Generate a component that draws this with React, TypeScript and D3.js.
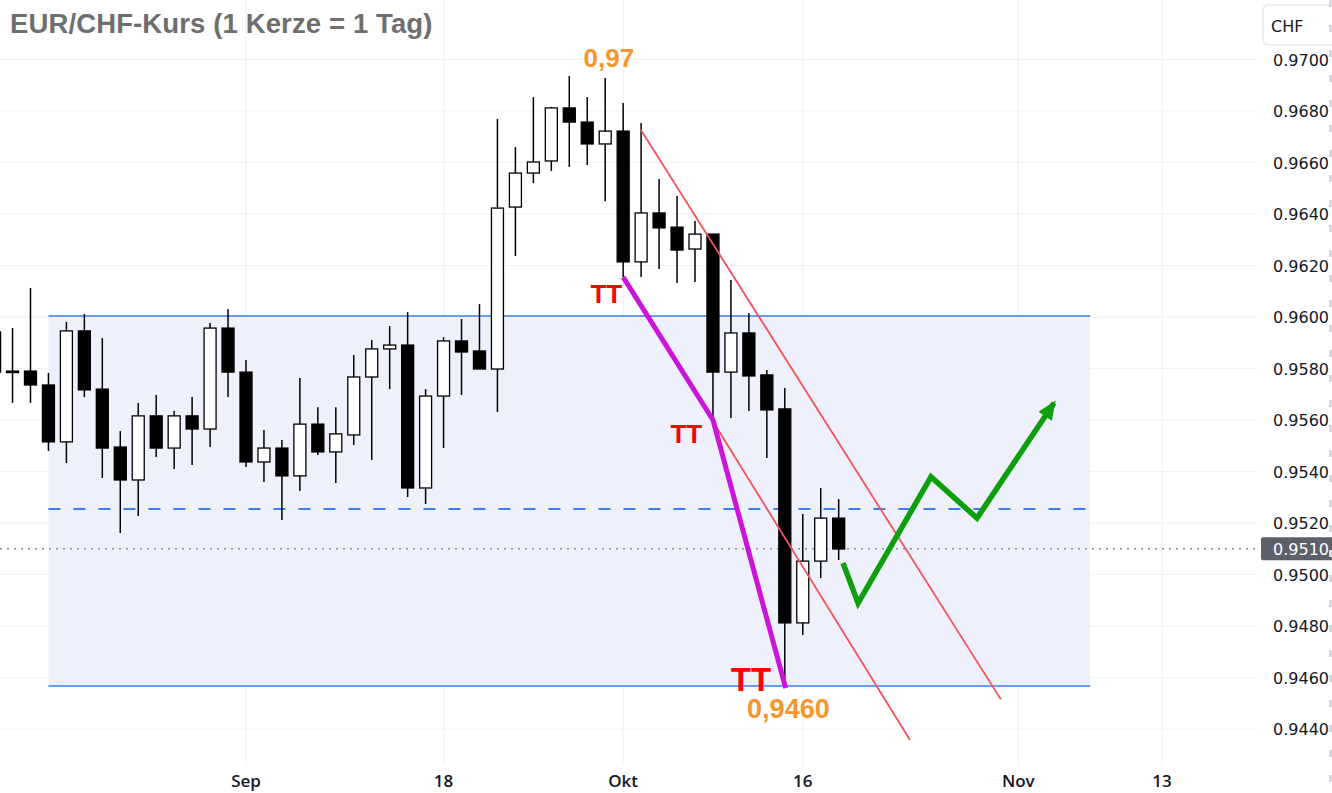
import React from 'react';
import * as d3 from 'd3';

// ---- DATA ----
const dates = [
  '2023-08-14', '2023-08-15', '2023-08-16', '2023-08-17', '2023-08-18',
  '2023-08-21', '2023-08-22', '2023-08-23', '2023-08-24', '2023-08-25',
  '2023-08-28', '2023-08-29', '2023-08-30', '2023-08-31', '2023-09-01',
  '2023-09-04', '2023-09-05', '2023-09-06', '2023-09-07', '2023-09-08',
  '2023-09-11', '2023-09-12', '2023-09-13', '2023-09-14', '2023-09-15',
  '2023-09-18', '2023-09-19', '2023-09-20', '2023-09-21', '2023-09-22',
  '2023-09-25', '2023-09-26', '2023-09-27', '2023-09-28', '2023-09-29',
  '2023-10-02', '2023-10-03', '2023-10-04', '2023-10-05', '2023-10-06',
  '2023-10-09', '2023-10-10', '2023-10-11', '2023-10-12', '2023-10-13',
  '2023-10-16', '2023-10-17', '2023-10-18',
];
const openVals = [
  0.95942, 0.9579, 0.9579, 0.95736, 0.95515,
  0.95946, 0.9572, 0.95495, 0.95367, 0.95616,
  0.95491, 0.95616, 0.95565, 0.95957, 0.95786,
  0.95437, 0.95491, 0.95383, 0.95584, 0.95476,
  0.95542, 0.95767, 0.95876, 0.95891, 0.95336,
  0.95693, 0.95907, 0.95868, 0.95798, 0.96427,
  0.96559, 0.96606, 0.96812, 0.96757, 0.96672,
  0.96722, 0.96214, 0.96404, 0.96349, 0.96264,
  0.96322, 0.95786, 0.95938, 0.95775, 0.95643,
  0.94812, 0.95052, 0.95219,
];
const highVals = [
  0.9596, 0.95957, 0.96113, 0.95783, 0.95981,
  0.96012, 0.95918, 0.95557, 0.95666, 0.95697,
  0.95635, 0.95689, 0.95977, 0.96031, 0.95833,
  0.95561, 0.95522, 0.95763, 0.9565, 0.9565,
  0.95852, 0.95911, 0.95965, 0.96019, 0.9572,
  0.95922, 0.95992, 0.9605, 0.96769, 0.9666,
  0.96854, 0.96816, 0.96936, 0.96854, 0.96928,
  0.96831, 0.96753, 0.96536, 0.9647, 0.96373,
  0.96322, 0.96144, 0.96016, 0.95794, 0.95724,
  0.95235, 0.95336, 0.95293,
];
const lowVals = [
  0.9577, 0.95666, 0.95666, 0.9548, 0.95433,
  0.95689, 0.95375, 0.95161, 0.95227, 0.95456,
  0.9541, 0.95425, 0.95495, 0.95689, 0.95417,
  0.95359, 0.95212, 0.95324, 0.95464, 0.95355,
  0.95503, 0.95445, 0.9572, 0.95301, 0.95274,
  0.95491, 0.95697, 0.95798, 0.95631, 0.96237,
  0.9652, 0.96567, 0.96583, 0.9659, 0.9645,
  0.96155, 0.96155, 0.96186, 0.96132, 0.96136,
  0.95608, 0.95608, 0.95635, 0.95452, 0.94559,
  0.94765, 0.94986, 0.95056,
];
const closeVals = [
  0.95786, 0.95788, 0.95736, 0.95515, 0.95946,
  0.95717, 0.95491, 0.95367, 0.95616, 0.95491,
  0.95616, 0.95565, 0.95957, 0.95786, 0.95437,
  0.95491, 0.95383, 0.95584, 0.95476, 0.95546,
  0.95767, 0.95876, 0.95891, 0.95336, 0.95693,
  0.95907, 0.95864, 0.95798, 0.96423, 0.96559,
  0.96602, 0.96812, 0.96757, 0.96672, 0.96722,
  0.96214, 0.96404, 0.96346, 0.9626, 0.96322,
  0.95786, 0.95938, 0.95771, 0.95639, 0.94812,
  0.95052, 0.95219, 0.95099,
];

const priceTicks = [0.944, 0.946, 0.948, 0.95, 0.952, 0.954, 0.956, 0.958, 0.96, 0.962, 0.964, 0.966, 0.968, 0.97];
const timeTicks = ['2023-09-01', '2023-09-18', '2023-10-02', '2023-10-16', '2023-11-01', '2023-11-13'];
const timeTickLabels = ['Sep', '18', 'Okt', '16', 'Nov', '13'];

const title = 'EUR/CHF-Kurs (1 Kerze = 1 Tag)';
const currency = 'CHF';
const lastPrice = 0.951;

// Range box (sideways zone)
const rangeStart = '2023-08-17';
const rangeEnd = '2023-11-07';
const rangeTop = 0.96004;
const rangeBottom = 0.94567;
const rangeMid = 0.95254;

// Downtrend channel lines [trading-day index, price]
const channelUpper: [number, number][] = [[21.99, 0.96726], [42.03, 0.94515]];
const channelLower: [number, number][] = [[25.95, 0.956], [36.97, 0.94357]];
// Magenta line connecting lower lows (TT)
const ttLine: [number, number][] = [[21, 0.96155], [26, 0.956], [30.05, 0.94559]];
// Forecast path (trading-day index, price)
const forecastIdx = [33.24, 34.08, 38.14, 40.7, 44.99];
const forecastVals = [0.95045, 0.94889, 0.95379, 0.95219, 0.95666];

// Annotations
const ttLabels = [
  { idx: 20.95, price: 0.96155, size: 26, anchor: 'end', dy: 26 },
  { idx: 25.4, price: 0.956, size: 26, anchor: 'end', dy: 23 },
  { idx: 28.12, price: 0.94559, size: 33, anchor: 'middle', dy: 3 },
];
const highLabel = { text: '0,97', idx: 20.2, price: 0.96936 };
const lowLabel = { text: '0,9460', idx: 30.2, price: 0.94559 };

// ---- HELPERS ----
const baseDate = '2023-09-01';
function tradingIndex(d: string): number {
  const a = new Date(baseDate + 'T00:00:00Z').getTime();
  const b = new Date(d + 'T00:00:00Z').getTime();
  const step = b >= a ? 1 : -1;
  let n = 0;
  let t = a;
  const day = 86400000;
  while (t !== b) {
    t += step * day;
    const wd = new Date(t).getUTCDay();
    if (wd !== 0 && wd !== 6) n += step;
  }
  return n;
}

const W = 1332;
const H = 793;
const plotRight = 1258;
const plotBottom = 765;

export default function App() {
  const x = d3.scaleLinear().domain([0, 51]).range([246, 246 + 51 * 17.96]);
  const y = d3.scaleLinear().domain([0.944, 0.97]).range([729, 59.5]);
  const bodyW = 12;

  const candles = dates.map((d, i) => ({
    i: tradingIndex(d),
    o: openVals[i],
    h: highVals[i],
    l: lowVals[i],
    c: closeVals[i],
  }));

  const line = d3.line<[number, number]>().x((p) => x(p[0])).y((p) => y(p[1]));
  const forecast: [number, number][] = forecastIdx.map((t, k) => [t, forecastVals[k]]);

  const rx0 = x(tradingIndex(rangeStart));
  const rx1 = x(tradingIndex(rangeEnd));

  // arrow head for forecast
  const pA = forecast[forecast.length - 2];
  const pB = forecast[forecast.length - 1];
  const ax = x(pB[0]);
  const ay = y(pB[1]);
  const ang = Math.atan2(ay - y(pA[1]), ax - x(pA[0]));
  const hl = 16;
  const hw = 8;
  const head = [
    [ax + 3 * Math.cos(ang), ay + 3 * Math.sin(ang)],
    [ax - hl * Math.cos(ang) + hw * Math.sin(ang), ay - hl * Math.sin(ang) - hw * Math.cos(ang)],
    [ax - hl * Math.cos(ang) - hw * Math.sin(ang), ay - hl * Math.sin(ang) + hw * Math.cos(ang)],
  ];
  const shaft: [number, number][] = [...forecast];

  const axisFont = '"DejaVu Sans", "Open Sans", sans-serif';
  const timeFont = '"Open Sans", "DejaVu Sans", sans-serif';
  const annFont = '"Liberation Sans", Arial, sans-serif';

  return (
    <svg width={W} height={H} style={{ position: 'absolute', left: 0, top: 0, background: '#fff' }}>
      <defs>
        <clipPath id="plot">
          <rect x={0} y={0} width={plotRight} height={plotBottom} />
        </clipPath>
      </defs>
      <rect x={0} y={0} width={W} height={H} fill="#fff" />
      <g clipPath="url(#plot)">
        {/* grid */}
        {priceTicks.map((p) => (
          <line key={'h' + p} x1={0} x2={plotRight} y1={y(p)} y2={y(p)} stroke="#f0f2f5" strokeWidth={1.2} />
        ))}
        {timeTicks.map((d) => (
          <line key={'v' + d} x1={x(tradingIndex(d))} x2={x(tradingIndex(d))} y1={0} y2={plotBottom} stroke="#f0f2f5" strokeWidth={1.2} />
        ))}
        {/* range box */}
        <rect x={rx0} y={y(rangeTop)} width={rx1 - rx0} height={y(rangeBottom) - y(rangeTop)} fill="#eef1fb" />
        <line x1={rx0} x2={rx1} y1={y(rangeTop)} y2={y(rangeTop)} stroke="#6b9bf2" strokeWidth={2} />
        <line x1={rx0} x2={rx1} y1={y(rangeBottom)} y2={y(rangeBottom)} stroke="#6b9bf2" strokeWidth={2} />
        <line x1={rx0} x2={rx1} y1={y(rangeMid)} y2={y(rangeMid)} stroke="#3f7df2" strokeWidth={2} strokeDasharray="12 13" />
        {/* last price dotted */}
        <line x1={0} x2={plotRight} y1={y(lastPrice)} y2={y(lastPrice)} stroke="#8a8d96" strokeWidth={1.5} strokeDasharray="2 5" />
        {/* candles */}
        {candles.map((k) => {
          const cx = x(k.i);
          const up = k.c >= k.o;
          const top = y(Math.max(k.o, k.c));
          const bot = y(Math.min(k.o, k.c));
          const bh = Math.max(bot - top, 1.5);
          return (
            <g key={'c' + k.i}>
              <line x1={cx} x2={cx} y1={y(k.h)} y2={y(k.l)} stroke="#000" strokeWidth={1.5} />
              <rect
                x={cx - bodyW / 2}
                y={top}
                width={bodyW}
                height={bh}
                fill={up ? '#fff' : '#000'}
                stroke="#000"
                strokeWidth={1.3}
              />
            </g>
          );
        })}
        {/* channel lines */}
        <path d={line(channelUpper) || ''} stroke="#f5525a" strokeWidth={1.8} fill="none" />
        <path d={line(channelLower) || ''} stroke="#f5525a" strokeWidth={1.8} fill="none" />
        {/* TT magenta line */}
        <path d={line(ttLine) || ''} stroke="#cc14d9" strokeWidth={5} fill="none" strokeLinejoin="round" />
        {/* forecast */}
        <path d={line(shaft) || ''} stroke="#0e9e0e" strokeWidth={5.5} fill="none" strokeLinejoin="miter" />
        <path d={'M' + head.map((p) => p.join(',')).join('L') + 'Z'} fill="#0e9e0e" />
        {/* TT labels */}
        {ttLabels.map((t, k) => (
          <text
            key={'tt' + k}
            x={x(t.idx)}
            y={y(t.price) + t.dy}
            fontFamily={annFont}
            fontWeight="bold"
            fontSize={t.size}
            fill="#ff0000"
            textAnchor={t.anchor as any}
          >
            TT
          </text>
        ))}
        <text x={x(highLabel.idx)} y={y(highLabel.price) - 9} fontFamily={annFont} fontWeight="bold" fontSize={26} fill="#f7952f" textAnchor="middle">
          {highLabel.text}
        </text>
        <text x={x(lowLabel.idx)} y={y(lowLabel.price) + 30} fontFamily={annFont} fontWeight="bold" fontSize={27} fill="#f7952f" textAnchor="middle">
          {lowLabel.text}
        </text>
      </g>
      {/* title */}
      <text x={10} y={33} fontFamily={annFont} fontWeight="bold" fontSize={27.5} letterSpacing={0.12} fill="#6e6e6e">
        {title}
      </text>
      {/* right axis */}
      <rect x={plotRight} y={0} width={W - plotRight} height={H} fill="#fff" />
      {priceTicks.map((p) => (
        <text key={'pt' + p} x={1273} y={y(p) + 6} fontFamily={axisFont} fontSize={16} fill="#131722">
          {d3.format('.4f')(p)}
        </text>
      ))}
      <rect x={1261} y={y(lastPrice) - 11.5} width={80} height={23} fill="#5d606b" rx={2} />
      <text x={1273} y={y(lastPrice) + 6} fontFamily={axisFont} fontSize={16} fill="#fff">
        {d3.format('.4f')(lastPrice)}
      </text>
      <rect x={1263} y={5} width={80} height={40} rx={5} fill="#fff" stroke="#e0e3eb" strokeWidth={1.2} />
      <text x={1271} y={32} fontFamily={axisFont} fontSize={16} fill="#131722">
        {currency}
      </text>
      <line x1={1330.5} x2={1330.5} y1={0} y2={H} stroke="#d6d8dd" strokeWidth={3} strokeDasharray="7 18" />
      {/* bottom axis */}
      {timeTicks.map((d, k) => (
        <text
          key={'tt-x' + d}
          x={x(tradingIndex(d))}
          y={787}
          fontFamily={timeFont}
          fontWeight={600}
          fontSize={17}
          fill="#131722"
          textAnchor="middle"
        >
          {timeTickLabels[k]}
        </text>
      ))}
    </svg>
  );
}
